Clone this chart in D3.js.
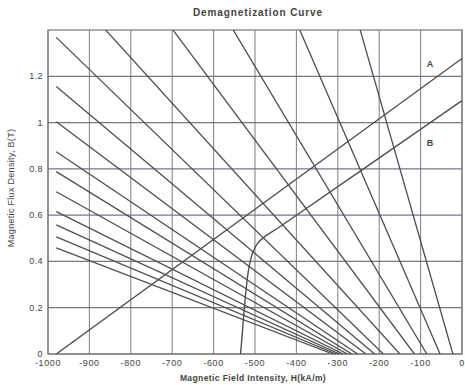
<!DOCTYPE html>
<html>
<head>
<meta charset="utf-8">
<script src="https://cdn.jsdelivr.net/npm/d3@7"></script>
<style>
  body { margin: 0; background: #fff; }
  text { font-family: Arial, "Liberation Sans", sans-serif; fill: #444; }
</style>
</head>
<body>
<script>
const margin = { top: 30, right: 3, bottom: 31, left: 48 }
const width = 465 - margin.left - margin.right
const height = 385 - margin.top - margin.bottom

// axis ticks
const hTicks = [-1000, -900, -800, -700, -600, -500, -400, -300, -200, -100, 0]
const bTicks = [0, 0.2, 0.4, 0.6, 0.8, 1, 1.2]

// load lines: B where each starts (H = -980) and H where it meets B = 0
const loadStartH = -980
const loadStartB = [0.459, 0.506, 0.558, 0.615, 0.701, 0.788, 0.874, 1.004, 1.156, 1.368, 1.635, 2.077, 2.68, 3.83, 5.99]
const loadEndH = [-312, -304, -296, -287, -277, -266, -252, -232, -211, -190, -150, -115, -85, -53, -22]

// demagnetization curves
const curveA = [[-980, 0], [0, 1.277]]
const curveB = [[0, 1.095], [-440, 0.55], [-478, 0.505], [-494, 0.478], [-506, 0.435], [-515, 0.37],
  [-522, 0.27], [-528, 0.15], [-532, 0.06], [-535, 0]]
const curveLabels = [{ name: 'A', h: -85, b: 1.24 }, { name: 'B', h: -85, b: 0.9 }]

const svg = d3.select('body').append('svg')
  .attr('width', 465)
  .attr('height', 385)

const g = svg.append('g')
  .attr('transform', `translate(${margin.left}, ${margin.top})`)

const x = d3.scaleLinear().domain([-1000, 0]).range([0, width])
const y = d3.scaleLinear().domain([0, 1.4]).range([height, 0])

svg.append('defs').append('clipPath').attr('id', 'plot')
  .append('rect').attr('width', width).attr('height', height)

// grid
g.selectAll('.vgrid')
  .data(hTicks)
  .join('line')
  .attr('x1', d => x(d)).attr('x2', d => x(d))
  .attr('y1', 0).attr('y2', height)
  .attr('stroke', '#888').attr('stroke-width', 1.1)

g.selectAll('.hgrid')
  .data(bTicks)
  .join('line')
  .attr('x1', 0).attr('x2', width)
  .attr('y1', d => y(d)).attr('y2', d => y(d))
  .attr('stroke', '#767688').attr('stroke-width', 1.2)

g.append('rect')
  .attr('width', width).attr('height', height)
  .attr('fill', 'none').attr('stroke', '#777').attr('stroke-width', 1.2)

const lines = g.append('g').attr('clip-path', 'url(#plot)')
const line = d3.line().x(d => x(d[0])).y(d => y(d[1]))

lines.selectAll('.load')
  .data(loadStartB.map((b, i) => [[loadStartH, b], [loadEndH[i], 0]]))
  .join('path')
  .attr('d', line)
  .attr('fill', 'none').attr('stroke', '#4e4e4e').attr('stroke-width', 1.3)

lines.append('path')
  .attr('d', line(curveA))
  .attr('fill', 'none').attr('stroke', '#4e4e4e').attr('stroke-width', 1.4)

lines.append('path')
  .attr('d', d3.line().x(d => x(d[0])).y(d => y(d[1])).curve(d3.curveCatmullRom)(curveB))
  .attr('fill', 'none').attr('stroke', '#4e4e4e').attr('stroke-width', 1.4)

g.selectAll('.clabel')
  .data(curveLabels)
  .join('text')
  .attr('x', d => x(d.h)).attr('y', d => y(d.b))
  .attr('font-size', 9).attr('font-weight', 'bold')
  .text(d => d.name)

// tick labels
g.selectAll('.xtick')
  .data(hTicks)
  .join('text')
  .attr('x', d => x(d)).attr('y', height + 12)
  .attr('text-anchor', 'middle').attr('font-size', 9).attr('letter-spacing', 0.6)
  .text(d => d)

g.selectAll('.ytick')
  .data(bTicks)
  .join('text')
  .attr('x', -5).attr('y', d => y(d) + 3)
  .attr('text-anchor', 'end').attr('font-size', 9).attr('letter-spacing', 0.4)
  .text(d => d)

svg.append('text')
  .attr('x', 258).attr('y', 16)
  .attr('text-anchor', 'middle').attr('font-size', 10).attr('font-weight', 'bold')
  .attr('letter-spacing', 0.9).attr('fill', '#555')
  .text('Demagnetization Curve')

svg.append('text')
  .attr('x', 253).attr('y', 381)
  .attr('text-anchor', 'middle').attr('font-size', 8.5).attr('font-weight', 'bold')
  .attr('letter-spacing', 0.4)
  .text('Magnetic Field Intensity, H(kA/m)')

svg.append('text')
  .attr('transform', `translate(14, ${margin.top + height / 2 - 4}) rotate(-90)`)
  .attr('text-anchor', 'middle').attr('font-size', 9).attr('letter-spacing', 0.3)
  .text('Magnetic Flux Density, B(T)')
</script>
</body>
</html>
